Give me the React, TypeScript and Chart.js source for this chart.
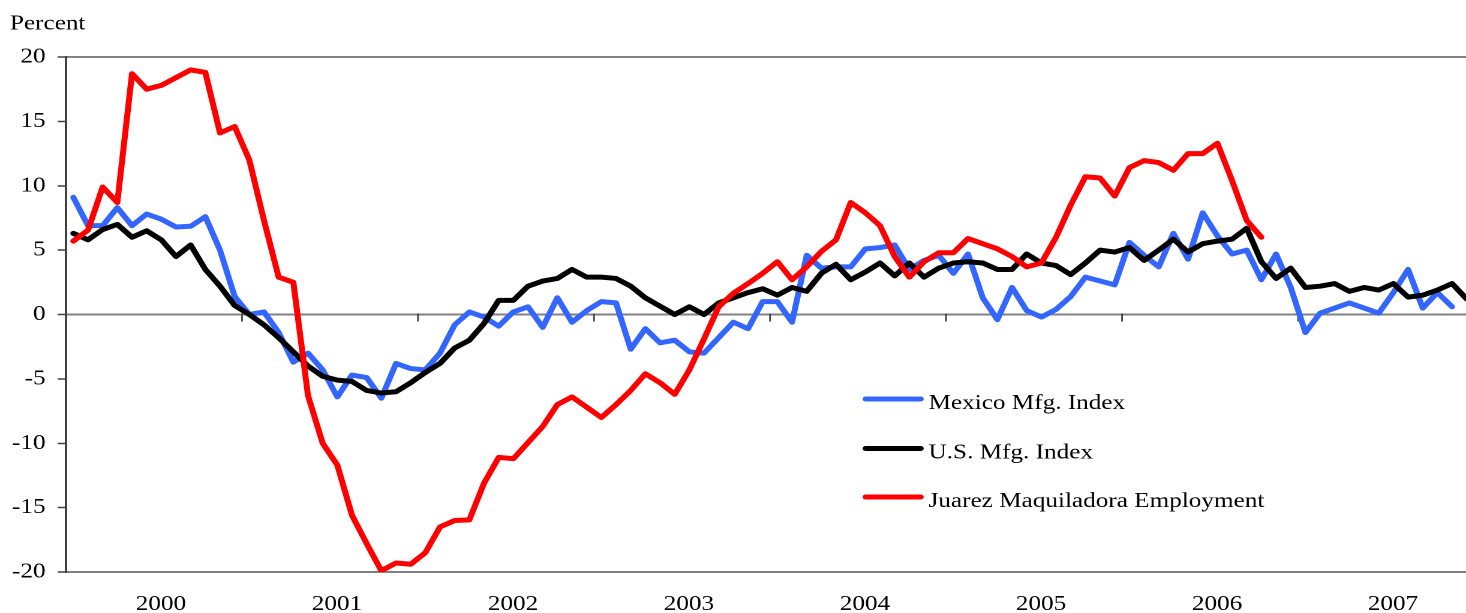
import { useEffect, useRef } from 'react';
import { Chart, registerables } from 'chart.js';

Chart.register(...registerables);

// ---- data ----
const years = ['2000', '2001', '2002', '2003', '2004', '2005', '2006', '2007'];
const seriesLabels = ['Mexico Mfg. Index', 'U.S. Mfg. Index', 'Juarez Maquiladora Employment'];
const yAxisTitle = 'Percent';

// monthly values, starting Jan 2000
const mexicoMfg = [
  9.1, 6.9, 6.9, 8.3, 6.9, 7.8, 7.4, 6.8, 6.85, 7.6, 5.0, 1.4,
  0.0, 0.2, -1.4, -3.7, -3.0, -4.3, -6.4, -4.7, -4.9, -6.5, -3.8, -4.2,
  -4.3, -3.0, -0.8, 0.2, -0.2, -0.9, 0.2, 0.6, -1.0, 1.3, -0.6, 0.3,
  1.0, 0.9, -2.7, -1.1, -2.2, -2.0, -2.9, -3.0, -1.8, -0.6, -1.1, 1.0,
  1.0, -0.6, 4.6, 3.6, 3.7, 3.7, 5.1, 5.2, 5.4, 3.5, 4.2, 4.6,
  3.2, 4.7, 1.3, -0.4, 2.1, 0.3, -0.2, 0.4, 1.4, 2.9, 2.6, 2.3,
  5.6, 4.6, 3.7, 6.3, 4.3, 7.9, 6.1, 4.7, 5.0, 2.7, 4.7, 2.1,
  -1.4, 0.1, 0.5, 0.9, 0.5, 0.1, 1.7, 3.5, 0.5, 1.7, 0.6,
];

const usMfg = [
  6.3, 5.8, 6.6, 7.0, 6.0, 6.5, 5.8, 4.5, 5.4, 3.5, 2.2, 0.7,
  0.0, -0.8, -1.8, -2.9, -4.0, -4.8, -5.1, -5.2, -5.9, -6.1, -6.0, -5.3,
  -4.5, -3.8, -2.6, -2.0, -0.7, 1.1, 1.1, 2.2, 2.6, 2.8, 3.5, 2.9,
  2.9, 2.8, 2.2, 1.3, 0.65, 0.0, 0.6, 0.0, 0.9, 1.3, 1.7, 2.0,
  1.5, 2.1, 1.8, 3.2, 3.9, 2.7, 3.3, 4.0, 3.0, 4.0, 2.9, 3.6,
  4.0, 4.1, 4.0, 3.5, 3.5, 4.7, 4.0, 3.8, 3.1, 4.0, 5.0, 4.85,
  5.2, 4.2, 5.0, 5.85, 4.85, 5.5, 5.7, 5.85, 6.7, 4.1, 2.8, 3.6,
  2.1, 2.2, 2.4, 1.8, 2.1, 1.9, 2.4, 1.35, 1.5, 1.9, 2.4, 1.2,
];

const juarezEmployment = [
  5.7, 6.55, 9.9, 8.7, 18.7, 17.5, 17.8, 18.4, 19.0, 18.8, 14.1, 14.6,
  12.0, 7.3, 2.9, 2.5, -6.3, -10.0, -11.7, -15.6, -17.8, -19.9, -19.3, -19.4,
  -18.5, -16.5, -16.0, -15.95, -13.1, -11.1, -11.2, -9.95, -8.7, -7.0, -6.4, -7.2,
  -8.0, -7.0, -5.9, -4.6, -5.3, -6.2, -4.3, -1.9, 0.6, 1.65, 2.4, 3.2,
  4.1, 2.7, 3.7, 4.9, 5.8, 8.7, 7.9, 6.9, 4.5, 2.9, 4.1, 4.8,
  4.8, 5.9, 5.5, 5.1, 4.5, 3.7, 4.0, 6.0, 8.5, 10.7, 10.6, 9.2,
  11.4, 11.95, 11.8, 11.2, 12.5, 12.5, 13.3, 10.4, 7.3, 6.0,
];

const seriesColors = ['#3366FF', '#000000', '#FF0000'];

// ---- layout (logical canvas is stretched horizontally to match the reference) ----
const W = 1222;
const H = 613;
const SX = 1466 / W;
const FONT_FAMILY = "'Liberation Serif', 'Times New Roman', serif";
const FONT_SIZE = 21;

const toPoints = (arr: number[]) => arr.map((v, i) => ({ x: i + 0.5, y: v }));

const overlayPlugin = {
  id: 'overlay',
  beforeDatasetsDraw(chart: any) {
    const { ctx, scales } = chart;
    const xs = scales.x;
    const ys = scales.y;
    const y0 = ys.getPixelForValue(0);
    ctx.save();
    ctx.strokeStyle = '#404040';
    ctx.lineWidth = 1.4;
    years.forEach((_, k) => {
      if (k === 0) return;
      const x = xs.getPixelForValue(k * 12);
      ctx.beginPath();
      ctx.moveTo(x, y0 - 1);
      ctx.lineTo(x, y0 + 7);
      ctx.stroke();
    });
    ctx.restore();
  },
  afterDraw(chart: any) {
    const { ctx } = chart;
    ctx.save();
    ctx.font = `${FONT_SIZE}px ${FONT_FAMILY}`;
    ctx.fillStyle = '#000';
    ctx.textBaseline = 'alphabetic';
    ctx.textAlign = 'left';
    ctx.fillText(yAxisTitle, 8.3, 29.5);

    const rowsY = [399, 448.5, 497];
    chart.data.datasets.forEach((ds: any, k: number) => {
      const y = rowsY[k];
      ctx.strokeStyle = ds.borderColor;
      ctx.lineWidth = 5;
      ctx.lineCap = 'round';
      ctx.beginPath();
      ctx.moveTo(721.5, y);
      ctx.lineTo(767.5, y);
      ctx.stroke();
      ctx.fillText(ds.label, 774, y + 10);
    });
    ctx.restore();
  },
};

export default function App() {
  const ref = useRef<HTMLCanvasElement>(null);

  useEffect(() => {
    const font = { family: FONT_FAMILY, size: FONT_SIZE };
    const data = [mexicoMfg, usMfg, juarezEmployment];
    const orders = [2, 1, 0];
    const chart = new Chart(ref.current as HTMLCanvasElement, {
      type: 'line',
      data: {
        datasets: data.map((arr, k) => ({
          label: seriesLabels[k],
          data: toPoints(arr),
          borderColor: seriesColors[k],
          backgroundColor: seriesColors[k],
          borderWidth: 5,
          pointRadius: 0,
          tension: 0,
          fill: false,
          borderJoinStyle: 'round',
          borderCapStyle: 'round',
          order: orders[k],
        })),
      },
      options: {
        animation: false,
        responsive: false,
        devicePixelRatio: 2,
        layout: { padding: { top: 57, left: 0, right: 0, bottom: 0 } },
        plugins: {
          legend: { display: false },
          tooltip: { enabled: false },
        },
        scales: {
          x: {
            type: 'linear',
            min: 0,
            max: 95.45,
            afterBuildTicks: (s: any) => {
              s.ticks = years.map((_, k) => ({ value: k * 12 + 6 }));
            },
            afterFit: (s: any) => {
              s.height = 41;
            },
            ticks: {
              autoSkip: false,
              maxRotation: 0,
              minRotation: 0,
              padding: 20,
              labelOffset: 5.8,
              color: '#000',
              font,
              callback: (_v: any, i: number) => years[i] ?? '',
            },
            grid: { display: false, drawTicks: false },
            border: { display: false },
          },
          y: {
            min: -20,
            max: 20,
            afterFit: (s: any) => {
              s.width = 55;
            },
            ticks: { stepSize: 5, padding: 10, color: '#000', font },
            grid: {
              color: (c: any) =>
                c.tick && (c.tick.value === 20 || c.tick.value === 0 || c.tick.value === -20)
                  ? '#808080'
                  : 'rgba(0,0,0,0)',
              lineWidth: 2,
              tickColor: '#404040',
              tickLength: 7,
              tickWidth: 1.5,
            },
            border: { color: '#404040', width: 2 },
          },
        },
      } as any,
      plugins: [overlayPlugin],
    });
    return () => chart.destroy();
  }, []);

  return (
    <div
      style={{
        position: 'absolute',
        left: 0,
        top: 0,
        width: 1466,
        height: 613,
        overflow: 'hidden',
        background: '#fff',
      }}
    >
      <div style={{ width: W, height: H, transform: `scaleX(${SX})`, transformOrigin: '0 0' }}>
        <canvas ref={ref} width={W} height={H} style={{ display: 'block', width: W, height: H }} />
      </div>
    </div>
  );
}
